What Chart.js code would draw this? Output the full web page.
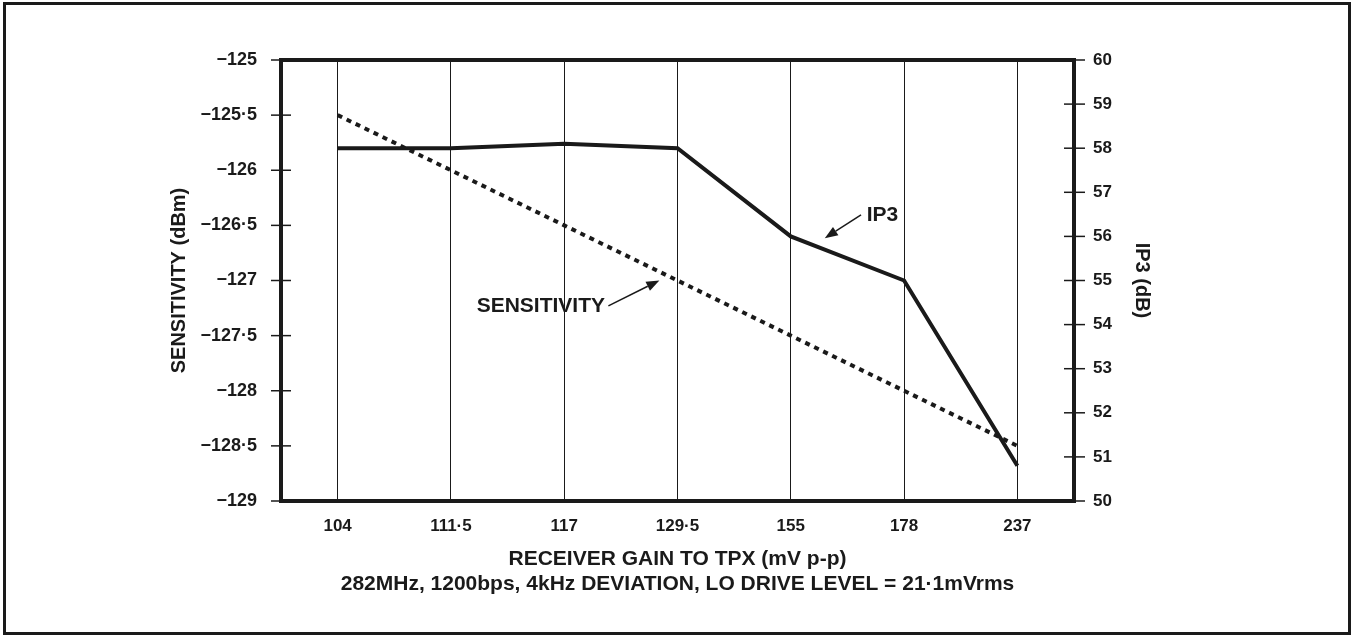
<!DOCTYPE html>
<html>
<head>
<meta charset="utf-8">
<script src="https://cdn.jsdelivr.net/npm/chart.js@4/dist/chart.umd.min.js"></script>
<style>
  html, body { margin: 0; padding: 0; background: #fff; }
  #wrap { width: 1354px; height: 637px; position: relative; }
</style>
</head>
<body>
<div id="wrap"><canvas id="chart"></canvas></div>
<script>
// receiver gain categories (mV p-p)
const gainLabels = ['104', '111·5', '117', '129·5', '155', '178', '237'];

// sensitivity (dBm), left axis, dotted line
const sensitivity = [-125.5, -126, -126.5, -127, -127.5, -128, -128.5];

// IP3 (dB), right axis, solid line
const ip3 = [58, 58, 58.1, 58, 56, 55, 50.8];

const sensTicks = [-125, -125.5, -126, -126.5, -127, -127.5, -128, -128.5, -129];
const ip3Ticks = [60, 59, 58, 57, 56, 55, 54, 53, 52, 51, 50];

// callout labels: text, axis, label anchor, arrow tail, arrow head (category index, axis value)
const callouts = [
  { text: 'SENSITIVITY', axis: 'yL', align: 'right', label: [2.36, -127.23], from: [2.39, -127.23], to: [2.84, -127.0] },
  { text: 'IP3', axis: 'yR', align: 'left', label: [4.67, 56.49], from: [4.62, 56.49], to: [4.30, 55.96] }
];

const INK = '#1a1a1a';
const FONT = "'Liberation Sans', Arial, sans-serif";

const fmtDec = v => String(v).replace('.', '·');

// frame, axis ticks, outer border and arrows
const decorPlugin = {
  id: 'decor',
  beforeDraw(chart) {
    const ctx = chart.ctx;
    ctx.save();
    ctx.strokeStyle = INK;
    ctx.lineWidth = 3;
    ctx.strokeRect(4.5, 3.5, chart.width - 9, chart.height - 7);
    ctx.restore();
  },
  afterDatasetsDraw(chart) {
    const { ctx, chartArea: a, scales } = chart;
    ctx.save();
    ctx.strokeStyle = INK;

    // tick marks crossing the side axes
    ctx.lineWidth = 1.5;
    sensTicks.forEach(v => {
      const y = scales.yL.getPixelForValue(v);
      ctx.beginPath();
      ctx.moveTo(a.left - 10, y);
      ctx.lineTo(a.left + 10, y);
      ctx.stroke();
    });
    ip3Ticks.forEach(v => {
      const y = scales.yR.getPixelForValue(v);
      ctx.beginPath();
      ctx.moveTo(a.right - 10, y);
      ctx.lineTo(a.right + 11, y);
      ctx.stroke();
    });

    // thick plot frame
    ctx.lineWidth = 4;
    ctx.strokeRect(a.left, a.top, a.right - a.left, a.bottom - a.top);

    // callouts
    ctx.fillStyle = INK;
    ctx.font = 'bold 21px ' + FONT;
    ctx.textBaseline = 'middle';
    callouts.forEach(c => {
      const px = p => [scales.x.getPixelForValue(p[0]), scales[c.axis].getPixelForValue(p[1])];
      const [lx, ly] = px(c.label);
      const [fx, fy] = px(c.from);
      const [tx, ty] = px(c.to);
      ctx.textAlign = c.align;
      ctx.fillText(c.text, lx, ly);

      const ang = Math.atan2(ty - fy, tx - fx);
      const headLen = 13, headW = 5;
      const bx = tx - headLen * Math.cos(ang), by = ty - headLen * Math.sin(ang);
      ctx.lineWidth = 1.5;
      ctx.beginPath();
      ctx.moveTo(fx, fy);
      ctx.lineTo(bx, by);
      ctx.stroke();
      ctx.beginPath();
      ctx.moveTo(tx, ty);
      ctx.lineTo(bx + headW * Math.sin(ang), by - headW * Math.cos(ang));
      ctx.lineTo(bx - headW * Math.sin(ang), by + headW * Math.cos(ang));
      ctx.closePath();
      ctx.fill();
    });
    ctx.restore();
  }
};

new Chart(document.getElementById('chart'), {
  type: 'line',
  data: {
    labels: gainLabels,
    datasets: [
      {
        label: 'IP3',
        data: ip3,
        yAxisID: 'yR',
        borderColor: INK,
        borderWidth: 4,
        pointRadius: 0,
        tension: 0,
        fill: false
      },
      {
        label: 'SENSITIVITY',
        data: sensitivity,
        yAxisID: 'yL',
        borderColor: INK,
        borderWidth: 4,
        borderDash: [5, 5],
        borderCapStyle: 'butt',
        pointRadius: 0,
        tension: 0,
        fill: false
      }
    ]
  },
  options: {
    responsive: true,
    maintainAspectRatio: false,
    animation: false,
    events: [],
    layout: { padding: { top: 60, left: 0, right: 0, bottom: 0 } },
    plugins: {
      legend: { display: false },
      tooltip: { enabled: false }
    },
    scales: {
      x: {
        type: 'category',
        offset: true,
        afterFit: s => { s.height = 136; },
        grid: { display: true, color: INK, lineWidth: 1, drawTicks: false, offset: false },
        border: { display: false },
        ticks: {
          color: INK,
          padding: 15,
          maxRotation: 0,
          autoSkip: false,
          font: { family: FONT, size: 17, weight: 'bold' }
        },
        title: {
          display: true,
          text: ['RECEIVER GAIN TO TPX (mV p-p)', '282MHz, 1200bps, 4kHz DEVIATION, LO DRIVE LEVEL = 21·1mVrms'],
          color: INK,
          padding: { top: 0, bottom: 40 },
          font: { family: FONT, size: 21, weight: 'bold', lineHeight: 1.2 }
        }
      },
      yL: {
        type: 'linear',
        position: 'left',
        min: -129,
        max: -125,
        afterFit: s => { s.width = 281; },
        afterBuildTicks: s => { s.ticks = sensTicks.map(v => ({ value: v })); },
        grid: { display: false, drawTicks: false },
        border: { display: false },
        ticks: {
          color: INK,
          padding: 24,
          font: { family: FONT, size: 18, weight: 'bold' },
          callback: v => '\u2212' + fmtDec(Math.abs(v))
        },
        title: {
          display: true,
          text: 'SENSITIVITY (dBm)',
          color: INK,
          padding: { top: 167, bottom: 0 },
          font: { family: FONT, size: 20, weight: 'bold', lineHeight: 1.2 }
        }
      },
      yR: {
        type: 'linear',
        position: 'right',
        min: 50,
        max: 60,
        afterFit: s => { s.width = 280; },
        afterBuildTicks: s => { s.ticks = ip3Ticks.map(v => ({ value: v })); },
        grid: { display: false, drawTicks: false },
        border: { display: false },
        ticks: {
          color: INK,
          padding: 19,
          font: { family: FONT, size: 17, weight: 'bold' }
        },
        title: {
          display: true,
          text: 'IP3 (dB)',
          color: INK,
          padding: { top: 200, bottom: 0 },
          font: { family: FONT, size: 20, weight: 'bold', lineHeight: 1.2 }
        }
      }
    }
  },
  plugins: [decorPlugin]
});
</script>
</body>
</html>
